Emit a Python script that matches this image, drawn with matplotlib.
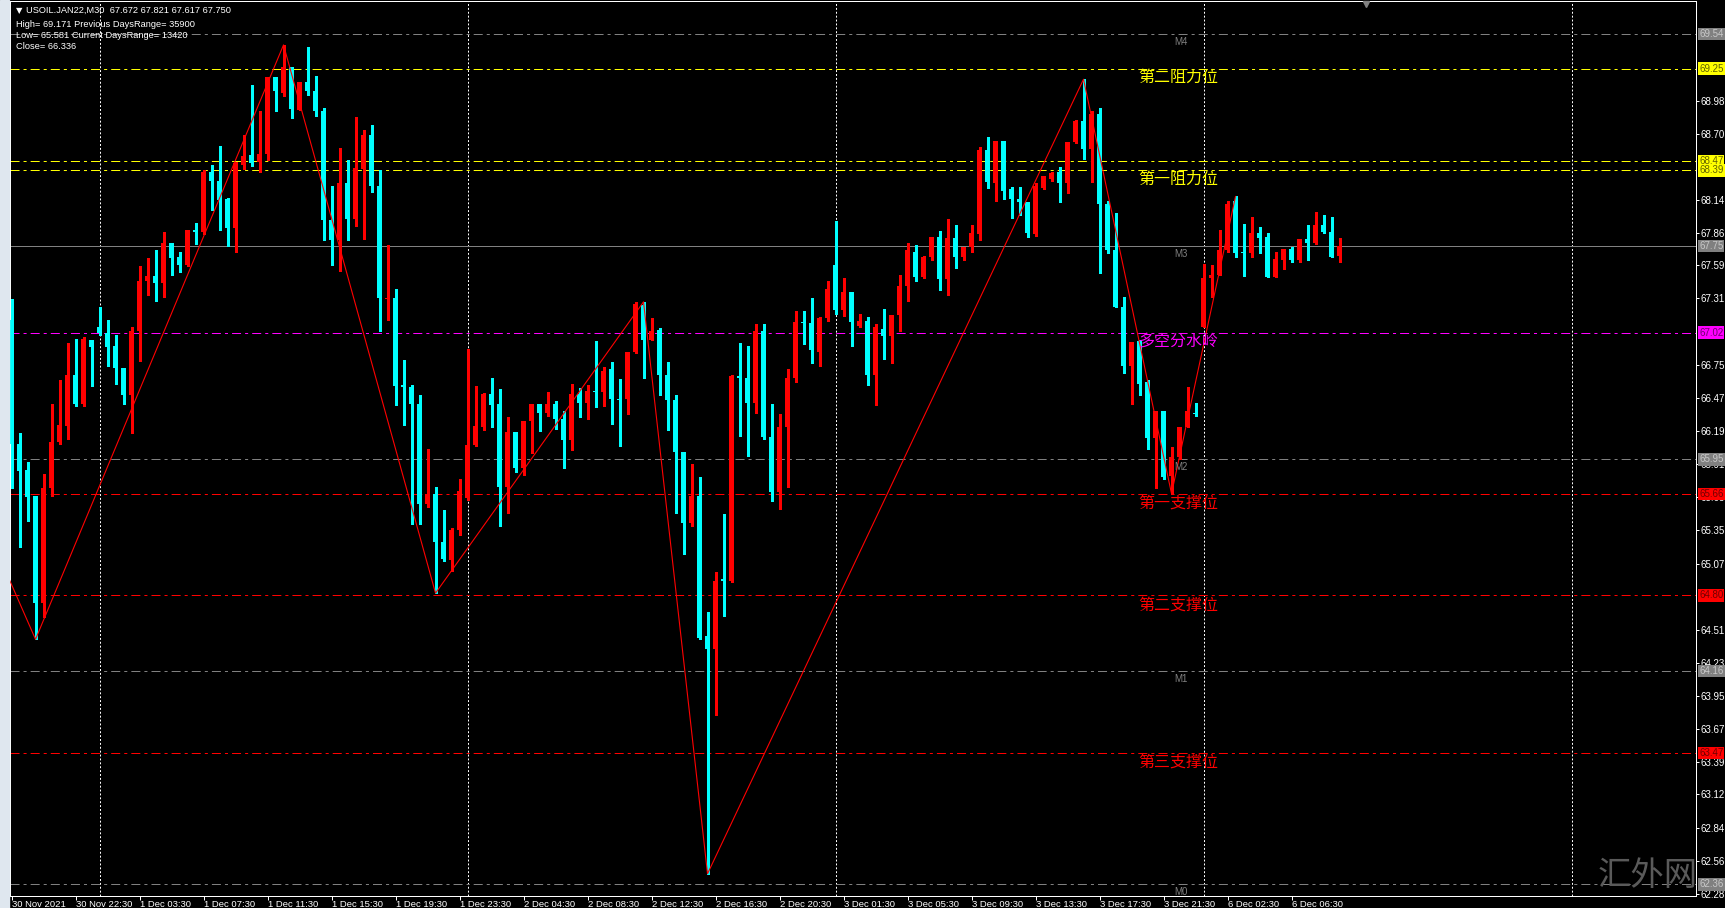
import numpy as np
import matplotlib
matplotlib.use("Agg")
import matplotlib.pyplot as plt
import matplotlib.transforms as mtransforms
from matplotlib.patches import Rectangle

plt.rcParams['font.family'] = ['Liberation Sans', 'Noto Sans CJK SC', 'DejaVu Sans']
plt.rcParams['lines.scale_dashes'] = False

# USOIL.JAN22 M30 candles
opens = [67.13, 66.08, 65.86, 65.64, 64.74, 65.71, 66.10, 66.23, 66.66, 66.42,
         66.96, 67.07, 67.02, 66.91, 66.72, 66.49, 67.03, 67.46, 67.50, 67.44,
         67.78, 67.66, 67.59, 67.89, 67.87, 68.38, 68.30, 68.15, 67.90, 68.44,
         68.52, 68.46, 68.53, 69.18, 69.04, 69.26, 68.90, 69.14, 69.06, 68.89,
         67.97, 67.80, 68.28, 67.98, 68.40, 68.69, 68.26, 67.30, 67.31, 66.58,
         66.56, 66.42, 65.57, 65.66, 65.25, 65.10, 65.35, 65.62, 66.07, 66.22,
         66.50, 66.42, 65.72, 66.18, 65.88, 66.27, 66.42, 66.34, 66.42, 66.29,
         66.11, 66.50, 66.43, 66.53, 66.52, 66.71, 66.46, 66.46, 66.86, 67.25,
         66.96, 67.04, 66.66, 66.45, 66.01, 65.41, 65.64, 64.46, 64.35, 64.94,
         64.92, 66.65, 66.64, 66.43, 67.03, 66.14, 65.67, 66.22, 66.64, 67.11,
         67.10, 66.86, 67.14, 67.59, 67.21, 67.36, 67.08, 67.12, 66.66, 67.05,
         66.99, 67.17, 67.41, 67.70, 67.49, 67.66, 67.83, 67.47, 67.82, 67.66,
         67.74, 67.85, 68.56, 68.28, 68.64, 68.23, 68.15, 68.12, 67.85, 68.24,
         68.32, 68.38, 68.28, 68.63, 68.81, 68.57, 68.87, 68.11, 67.72, 67.24,
         66.74, 66.95, 66.60, 66.13, 66.36, 65.81, 65.97, 66.22, 66.34, 67.07,
         67.48, 67.51, 67.72, 68.13, 67.70, 67.69, 67.86, 67.83, 67.49, 67.63,
         67.73, 67.63, 67.81, 67.78, 67.93, 67.87, 67.67]
highs = [67.30, 66.17, 65.93, 65.64, 65.83, 66.42, 66.62, 66.93, 66.97, 66.98,
         66.96, 67.24, 67.13, 67.00, 66.72, 67.07, 67.58, 67.65, 67.72, 67.87,
         67.78, 67.70, 67.89, 67.95, 68.39, 68.44, 68.60, 68.16, 68.46, 68.69,
         69.11, 68.89, 69.18, 69.18, 69.45, 69.26, 69.14, 69.43, 69.19, 68.92,
         68.26, 68.58, 68.48, 68.84, 68.73, 68.77, 68.39, 67.76, 67.39, 66.79,
         66.58, 66.49, 66.04, 65.72, 65.52, 65.37, 65.78, 66.88, 66.57, 66.51,
         66.64, 66.54, 66.31, 66.18, 66.27, 66.42, 66.42, 66.52, 66.44, 66.36,
         66.59, 66.55, 66.58, 66.95, 66.73, 66.77, 66.63, 66.86, 67.28, 67.28,
         67.14, 67.06, 66.77, 66.49, 66.01, 65.91, 65.80, 64.66, 65.00, 65.49,
         66.66, 66.93, 66.91, 67.09, 67.09, 66.42, 66.33, 66.71, 67.20, 67.20,
         67.31, 67.15, 67.46, 67.96, 67.48, 67.36, 67.18, 67.15, 67.09, 67.22,
         67.17, 67.51, 67.78, 67.76, 67.67, 67.83, 67.88, 67.98, 67.93, 67.74,
         67.93, 68.59, 68.67, 68.64, 68.64, 68.25, 68.25, 68.12, 68.28, 68.34,
         68.38, 68.42, 68.63, 68.82, 69.16, 68.89, 68.92, 68.13, 68.03, 67.32,
         66.94, 66.96, 66.62, 66.36, 66.36, 66.05, 66.22, 66.56, 66.43, 67.60,
         67.59, 67.89, 68.13, 68.17, 67.94, 68.00, 67.91, 67.86, 67.70, 67.73,
         67.74, 67.81, 67.93, 68.04, 68.01, 68.00, 67.82]
lows = [65.71, 65.21, 65.43, 64.43, 64.62, 65.64, 66.08, 66.12, 66.40, 66.40,
        66.57, 67.00, 66.74, 66.59, 66.42, 66.17, 66.78, 67.34, 67.29, 67.32,
        67.51, 67.53, 67.58, 67.77, 67.85, 68.06, 67.89, 67.75, 67.70, 68.40,
        68.43, 68.38, 68.48, 68.89, 69.02, 68.83, 68.90, 69.03, 68.85, 67.80,
        67.59, 67.54, 67.80, 67.92, 67.81, 68.21, 67.03, 67.13, 66.41, 66.24,
        65.40, 65.40, 65.55, 64.82, 65.09, 65.01, 65.31, 65.61, 66.06, 66.20,
        66.22, 65.39, 65.50, 65.84, 65.82, 66.00, 66.19, 66.32, 66.21, 65.88,
        66.03, 66.31, 66.29, 66.39, 66.40, 66.25, 66.06, 66.33, 66.85, 66.64,
        66.96, 66.49, 66.20, 65.50, 65.15, 65.39, 64.43, 62.45, 63.79, 64.63,
        64.91, 66.15, 65.98, 66.34, 66.12, 65.60, 65.53, 65.72, 66.60, 66.92,
        66.76, 66.74, 67.12, 67.18, 67.16, 66.91, 67.07, 66.58, 66.41, 66.80,
        66.76, 67.03, 67.29, 67.46, 67.48, 67.63, 67.38, 67.34, 67.57, 67.63,
        67.70, 67.80, 68.24, 68.13, 68.15, 67.99, 68.01, 67.83, 67.84, 68.23,
        68.30, 68.12, 68.20, 68.62, 68.49, 68.29, 67.52, 67.69, 67.24, 66.68,
        66.42, 66.49, 66.04, 65.71, 65.78, 65.66, 65.95, 66.22, 66.32, 67.07,
        67.32, 67.51, 67.70, 67.66, 67.50, 67.66, 67.69, 67.49, 67.49, 67.56,
        67.62, 67.62, 67.63, 67.77, 67.86, 67.66, 67.62]
closes = [66.08, 65.85, 65.63, 64.74, 65.71, 66.10, 66.24, 66.66, 66.42, 66.97,
          66.90, 67.02, 66.90, 66.72, 66.49, 67.03, 67.46, 67.50, 67.44, 67.78,
          67.65, 67.59, 67.89, 67.87, 68.38, 68.30, 68.14, 67.90, 68.45, 68.51,
          68.45, 68.53, 69.18, 69.06, 69.26, 68.91, 69.14, 69.06, 68.89, 67.97,
          67.80, 68.28, 67.98, 68.41, 68.69, 68.26, 67.31, 67.31, 66.57, 66.56,
          66.42, 65.57, 65.66, 65.25, 65.11, 65.35, 65.68, 66.07, 66.23, 66.50,
          66.41, 65.72, 66.18, 65.88, 66.27, 66.42, 66.34, 66.42, 66.29, 66.11,
          66.50, 66.43, 66.53, 66.52, 66.70, 66.46, 66.45, 66.86, 67.26, 66.96,
          67.03, 66.66, 66.45, 66.01, 65.41, 65.64, 64.44, 64.35, 64.92, 64.92,
          66.65, 66.64, 66.43, 67.03, 66.14, 65.67, 66.22, 66.64, 67.11, 67.10,
          66.87, 67.14, 67.39, 67.21, 67.36, 67.11, 67.12, 66.66, 67.07, 66.99,
          67.17, 67.41, 67.72, 67.49, 67.66, 67.83, 67.47, 67.82, 67.66, 67.74,
          67.86, 68.56, 68.29, 68.64, 68.22, 68.15, 68.12, 67.86, 68.26, 68.34,
          68.37, 68.28, 68.63, 68.81, 68.57, 68.87, 68.11, 67.72, 67.24, 66.74,
          66.94, 66.59, 66.13, 66.36, 65.80, 65.97, 66.22, 66.36, 66.33, 67.48,
          67.51, 67.72, 68.11, 67.69, 67.69, 67.86, 67.82, 67.49, 67.64, 67.73,
          67.63, 67.81, 67.78, 67.93, 67.87, 67.66, 67.75]

xtick_bars = list(range(0, 161, 8))
xtick_labels = ["30 Nov 2021", "30 Nov 22:30", "1 Dec 03:30", "1 Dec 07:30",
                "1 Dec 11:30", "1 Dec 15:30", "1 Dec 19:30", "1 Dec 23:30",
                "2 Dec 04:30", "2 Dec 08:30", "2 Dec 12:30", "2 Dec 16:30",
                "2 Dec 20:30", "3 Dec 01:30", "3 Dec 05:30", "3 Dec 09:30",
                "3 Dec 13:30", "3 Dec 17:30", "3 Dec 21:30", "6 Dec 02:30",
                "6 Dec 06:30"]
# scale labels that are not hidden behind a price box
ytick_vals = [62.28, 62.56, 62.84, 63.12, 63.39, 63.67, 63.95, 64.23, 64.51,
              65.07, 65.35, 65.63, 65.91, 66.19, 66.47, 66.75,
              67.31, 67.59, 67.86, 68.14, 68.70, 68.98]

day_starts = [11, 57, 103, 149, 195]

# zigzag turning points (bar index, price)
zz_bars = [-0.5, 3, 34, 53, 79, 87, 134, 145, 153]
zz_prices = [64.97, 64.43, 69.45, 64.82, 67.28, 62.45, 69.16, 65.66, 68.17]

YEL, MAG, RED, GRY, CYAN = '#ffff00', '#ff00ff', '#ff0000', '#808080', '#00ffff'
levels = [69.54, 69.25, 68.47, 68.39, 67.75, 67.02, 65.95, 65.66, 64.80, 64.16, 63.47, 62.36]
level_colors = [GRY, YEL, YEL, YEL, GRY, MAG, GRY, RED, RED, GRY, RED, GRY]
level_txt = ['#c8c8c8', '#606000', '#606000', '#606000', '#c8c8c8', '#700070',
             '#c8c8c8', '#700000', '#700000', '#c8c8c8', '#700000', '#c8c8c8']

cn_labels = ['第二阻力位', '第一阻力位', '多空分水岭', '第一支撑位', '第二支撑位', '第三支撑位']
cn_levels = [69.25, 68.39, 67.02, 65.66, 64.80, 63.47]
cn_colors = [YEL, YEL, MAG, RED, RED, RED]

m_labels = ['M4', 'M3', 'M2', 'M1', 'M0']
m_levels = [69.54, 67.75, 65.95, 64.16, 62.36]

header = ["High= 69.171 Previous DaysRange= 35900",
          "Low= 65.581 Current DaysRange= 13420",
          "Close= 66.336"]

W, H = 1725, 908
fig = plt.figure(figsize=(W / 100, H / 100), dpi=100, facecolor='black')
ax = fig.add_axes([10 / W, 12 / H, 1686 / W, 895 / H])
ax.set_facecolor('black')
fig.patches.append(Rectangle((0, 0), 9 / W, 1, transform=fig.transFigure,
                             color='#dfe7ef', zorder=0))

o, hi, lo, c = map(np.array, (opens, highs, lows, closes))
x = np.arange(len(o))
up = c >= o
body_lo = np.minimum(o, c)
body_h = np.maximum(np.abs(c - o), 0.009)

# day separators
for d in day_starts:
    ax.axvline(d, color='white', lw=0.72, linestyle=(0, (1.4, 1.4)), zorder=1)

# support / resistance lines
for lv, col in zip(levels, level_colors):
    if lv == 67.75:
        ax.axhline(lv, color=col, lw=0.72, zorder=1.5)
    else:
        ax.axhline(lv, color=col, lw=0.72, dashes=(6.5, 2.9, 2.2, 2.9), zorder=1.5)

for msk, col in ((up, RED), (~up, CYAN)):
    ax.vlines(x[msk], lo[msk], hi[msk], color=col, lw=0.75, zorder=3, antialiased=False)
    ax.bar(x[msk], body_h[msk], bottom=body_lo[msk], width=0.68, color=col,
           lw=0, zorder=3, antialiased=False)

ax.plot(zz_bars, zz_prices, color=RED, lw=0.8, zorder=4)

for t, lv, col in zip(cn_labels, cn_levels, cn_colors):
    ax.annotate(t, xy=(140.9, lv), xytext=(0, -0.5), textcoords='offset points',
                ha='left', va='top', color=col, fontsize=11.5,
                family=['Noto Sans CJK SC'], zorder=5)
for t, lv in zip(m_labels, m_levels):
    ax.annotate(t, xy=(146.2, lv), xytext=(0, -2), textcoords='offset points',
                ha='center', va='top', color=GRY, fontsize=7, zorder=5)

ax.set_xlim(-0.19, 210.56)
ax.set_ylim(62.262, 69.821)

ax.set_xticks(xtick_bars)
ax.set_xticklabels(xtick_labels, ha='left')
ax.tick_params(axis='x', colors='white', length=3.2, width=0.72, pad=0, labelsize=6.8)
ax.yaxis.tick_right()
ax.set_yticks(ytick_vals)
ax.set_yticklabels(['%.2f' % v for v in ytick_vals])
ax.tick_params(axis='y', colors='white', length=2.2, width=0.72, pad=1, labelsize=7)
for sp in ax.spines.values():
    sp.set_color('white')
    sp.set_linewidth(0.72)

# price boxes on the right scale
trans = mtransforms.offset_copy(
    mtransforms.blended_transform_factory(ax.transAxes, ax.transData),
    fig=fig, x=3, y=0, units='dots')
for lv, col, tc in zip(levels, level_colors, level_txt):
    ax.text(1.0, lv, '%.2f' % lv, transform=trans, ha='left', va='center',
            fontsize=7, color=tc, clip_on=False, zorder=6,
            bbox=dict(boxstyle='square,pad=0.12', fc=col, ec='none'))

# chart shift marker
ax.plot([0.8045], [0.997], marker='v', ms=5, color=GRY, transform=ax.transAxes,
        clip_on=False, zorder=6)

# header
fig.text(16 / W, 1 - 12.7 / H, '▼', fontsize=6, color='white', va='baseline',
         family=['DejaVu Sans'])
fig.text(26 / W, 1 - 12.7 / H, 'USOIL.JAN22,M30  67.672 67.821 67.617 67.750',
         fontsize=6.7, color='white', va='baseline')
for t, b in zip(header, [26.7, 37.5, 49.0]):
    fig.text(16 / W, 1 - b / H, t, fontsize=6.7, color='white', va='baseline')

# watermark
fig.text(1648 / W, 1 - 876 / H, '汇外网', fontsize=24, color='#5a5a5a',
         family=['Noto Sans CJK SC'], ha='center', va='center', zorder=10)

fig.savefig('out.png', dpi=100, facecolor='black')
